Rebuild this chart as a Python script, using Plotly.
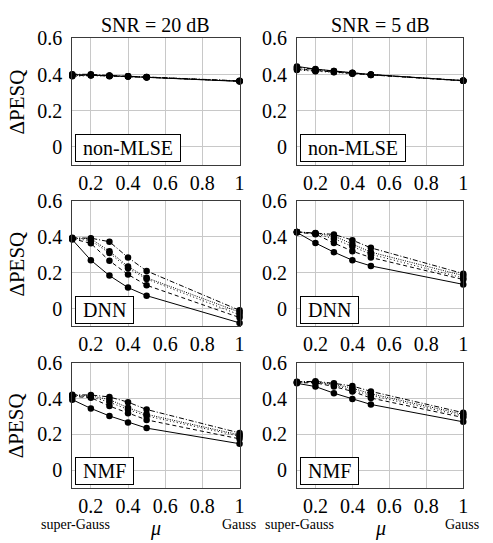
import plotly.graph_objects as go

mu = [0.1, 0.2, 0.3, 0.4, 0.5, 1.0]

series_names = ["solid", "dashed", "dotted", "densely dotted", "dash-dotted"]

# SNR = 20 dB
nonmlse_20 = [
    [0.400, 0.398, 0.393, 0.389, 0.384, 0.362],
    [0.395, 0.396, 0.392, 0.390, 0.385, 0.363],
    [0.390, 0.394, 0.391, 0.389, 0.385, 0.364],
    [0.393, 0.398, 0.393, 0.390, 0.386, 0.364],
    [0.402, 0.401, 0.395, 0.391, 0.386, 0.365],
]
nonmlse_5 = [
    [0.445, 0.430, 0.420, 0.410, 0.400, 0.366],
    [0.430, 0.420, 0.414, 0.406, 0.398, 0.365],
    [0.425, 0.418, 0.412, 0.405, 0.397, 0.366],
    [0.432, 0.424, 0.416, 0.408, 0.399, 0.366],
    [0.440, 0.428, 0.419, 0.409, 0.400, 0.367],
]
dnn_20 = [
    [0.385, 0.270, 0.184, 0.117, 0.072, -0.080],
    [0.390, 0.364, 0.267, 0.190, 0.130, -0.050],
    [0.390, 0.380, 0.310, 0.225, 0.165, -0.035],
    [0.392, 0.390, 0.320, 0.235, 0.172, -0.020],
    [0.395, 0.393, 0.373, 0.285, 0.210, -0.010],
]
dnn_5 = [
    [0.425, 0.366, 0.315, 0.270, 0.238, 0.135],
    [0.427, 0.415, 0.366, 0.320, 0.285, 0.162],
    [0.427, 0.418, 0.390, 0.346, 0.303, 0.171],
    [0.428, 0.420, 0.405, 0.360, 0.315, 0.184],
    [0.428, 0.422, 0.414, 0.382, 0.339, 0.195],
]
nmf_20 = [
    [0.394, 0.345, 0.303, 0.267, 0.235, 0.148],
    [0.412, 0.405, 0.358, 0.318, 0.281, 0.175],
    [0.415, 0.410, 0.380, 0.339, 0.303, 0.190],
    [0.418, 0.415, 0.394, 0.349, 0.312, 0.197],
    [0.421, 0.420, 0.409, 0.380, 0.339, 0.208],
]
nmf_5 = [
    [0.485, 0.467, 0.430, 0.398, 0.367, 0.270],
    [0.488, 0.488, 0.467, 0.440, 0.403, 0.294],
    [0.490, 0.490, 0.476, 0.449, 0.418, 0.303],
    [0.492, 0.493, 0.480, 0.458, 0.427, 0.312],
    [0.494, 0.496, 0.485, 0.470, 0.440, 0.321],
]

panels = [nonmlse_20, nonmlse_5, dnn_20, dnn_5, nmf_20, nmf_5]
panel_labels = ["non-MLSE", "non-MLSE", "DNN", "DNN", "NMF", "NMF"]
col_titles = ["SNR = 20 dB", "SNR = 5 dB"]
x_ticks = [0.2, 0.4, 0.6, 0.8, 1.0]
x_ticktext = ["0.2", "0.4", "0.6", "0.8", "1"]
y_ticks = [0.0, 0.2, 0.4, 0.6]
y_ticktext = ["0", "0.2", "0.4", "0.6"]

W, H = 493, 543
col_px = [(73, 242), (300, 468)]
row_px = [(28, 157), (194, 322), (359, 487)]

dashes = ["solid", "4px,3px", "1px,2.5px", "1px,1.3px", "5px,2px,1px,2px"]

FONT = "Liberation Serif"
NB = "\u00a0"

fig = go.Figure()
annotations = []
for i, data in enumerate(panels):
    r, c = divmod(i, 2)
    n = i + 1
    xa = "x" if n == 1 else f"x{n}"
    ya = "y" if n == 1 else f"y{n}"
    for k, vals in enumerate(data):
        fig.add_trace(go.Scatter(
            x=mu, y=vals, mode="lines+markers", xaxis=xa, yaxis=ya,
            line=dict(color="black", width=1, dash=dashes[k]),
            marker=dict(color="black", size=6.5, symbol="circle"),
            cliponaxis=False, showlegend=False, name=series_names[k],
        ))
    x0, x1 = col_px[c]
    y0, y1 = row_px[r]
    axis_common = dict(showline=True, linecolor="#3a3a3a", linewidth=1, mirror=True,
                       showgrid=True, gridcolor="#c8c8c8", gridwidth=1,
                       zeroline=False, ticks="",
                       tickfont=dict(family=FONT, size=20, color="black"))
    fig.layout[f"xaxis{n if n > 1 else ''}"] = dict(
        domain=[x0 / W, x1 / W], anchor=ya, range=[0.1, 1.0],
        tickvals=x_ticks, ticktext=x_ticktext, ticklabelstandoff=0, **axis_common)
    fig.layout[f"yaxis{n if n > 1 else ''}"] = dict(
        domain=[1 - y1 / H, 1 - y0 / H], anchor=xa, range=[-0.1, 0.6],
        tickvals=y_ticks, ticktext=y_ticktext, ticklabelstandoff=5, **axis_common)
    annotations.append(dict(
        text=NB + panel_labels[i] + NB, xref=f"{xa} domain", yref=f"{ya} domain",
        x=0.018, y=0.023, xanchor="left", yanchor="bottom", showarrow=False,
        font=dict(family=FONT, size=20, color="black"),
        bordercolor="black", borderwidth=1, borderpad=2, bgcolor="white"))

for c in range(2):
    x0, x1 = col_px[c]
    annotations.append(dict(
        text=col_titles[c], xref="paper", yref="paper",
        x=(x0 + x1) / 2 / W, y=1 - 14 / H, xanchor="center", yanchor="middle",
        showarrow=False, font=dict(family=FONT, size=20, color="black")))
    annotations.append(dict(
        text="super-Gauss", xref="paper", yref="paper",
        x=(x0 + 3) / W, y=1 - 524 / H, xanchor="center", yanchor="middle",
        showarrow=False, font=dict(family=FONT, size=14, color="black")))
    annotations.append(dict(
        text="Gauss", xref="paper", yref="paper",
        x=(x1 - 1) / W, y=1 - 524 / H, xanchor="center", yanchor="middle",
        showarrow=False, font=dict(family=FONT, size=14, color="black")))
    annotations.append(dict(
        text="<i>μ</i>", xref="paper", yref="paper",
        x=(x0 + x1) / 2 / W, y=1 - 528 / H, xanchor="center", yanchor="middle",
        showarrow=False, font=dict(family=FONT, size=20, color="black")))

for r in range(3):
    y0, y1 = row_px[r]
    annotations.append(dict(
        text="ΔPESQ", xref="paper", yref="paper",
        x=17 / W, y=1 - (y0 + y1) / 2 / H, xanchor="center", yanchor="middle",
        textangle=-90, showarrow=False,
        font=dict(family=FONT, size=21, color="black")))

fig.update_layout(
    width=W, height=H, margin=dict(l=0, r=0, t=0, b=0),
    paper_bgcolor="white", plot_bgcolor="white",
    annotations=annotations, showlegend=False,
)

fig.write_html("out.html")
